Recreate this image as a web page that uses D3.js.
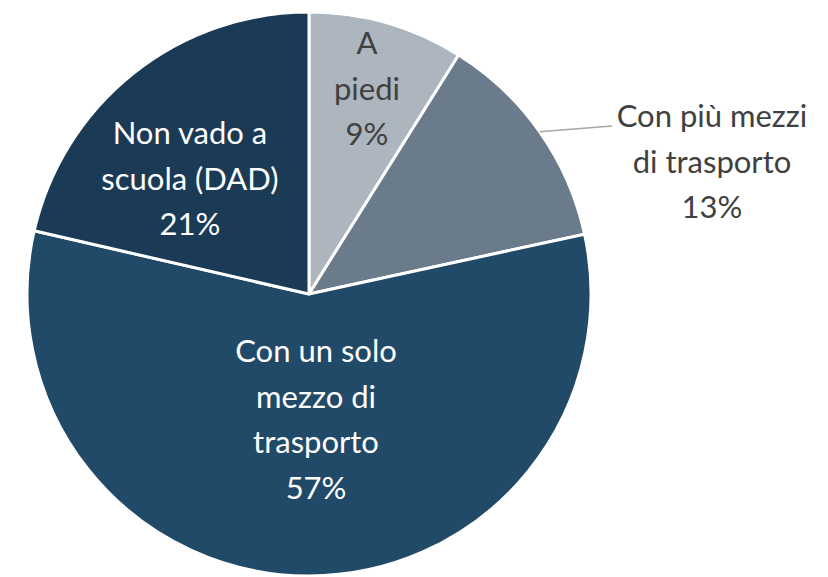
<!DOCTYPE html>
<html><head><meta charset="utf-8">
<script src="https://cdn.jsdelivr.net/npm/d3@7"></script>
<style>body{margin:0;background:#fff}svg{display:block}</style>
</head><body>
<script>
const categories = ["A piedi", "Con più mezzi di trasporto", "Con un solo mezzo di trasporto", "Non vado a scuola (DAD)"];
const values = [8.9, 12.7, 57.0, 21.4];
const labelLines = [["A", "piedi", "9%"], ["Con più mezzi", "di trasporto", "13%"], ["Con un solo", "mezzo di", "trasporto", "57%"], ["Non vado a", "scuola (DAD)", "21%"]];
const colors = ["#adb5bf", "#6a7b8c", "#214a68", "#1b3a56"];
const textColors = ["#404040", "#404040", "#ffffff", "#ffffff"];

const W = 828, H = 577, cx = 309, cy = 294, R = 282;
const svg = d3.select("body").append("svg").attr("width", W).attr("height", H);
const g = svg.append("g").attr("transform", `translate(${cx},${cy})`);
const data = categories.map((c, i) => ({c, v: values[i], i}));
const pie = d3.pie().value(d => d.v).sort(null);
const arc = d3.arc().innerRadius(0).outerRadius(R);
const arcs = pie(data);
g.selectAll("path").data(arcs).join("path").attr("d", arc)
  .attr("fill", d => colors[d.data.i]).attr("stroke", "#fff").attr("stroke-width", 3).attr("stroke-linejoin", "round");

// label placement: [angle (deg), radius fraction] inside; null -> outside
const labelPolar = [[15.8, 0.755], null, [176.8, 0.446], [-46, 0.587]];
const fs = 31, lh = 45.5;
arcs.forEach((a, k) => {
  const lines = labelLines[k];
  let x, y, fill = textColors[k];
  if (labelPolar[k]) {
    const ang = labelPolar[k][0] * Math.PI / 180, r = labelPolar[k][1] * R;
    x = Math.sin(ang) * r; y = -Math.cos(ang) * r;
  } else {
    const mid = (a.startAngle + a.endAngle) / 2;
    const p0 = [Math.sin(mid) * R, -Math.cos(mid) * R];
    const p1 = [303, -168];
    g.append("line").attr("x1", p0[0]).attr("y1", p0[1]).attr("x2", p1[0]).attr("y2", p1[1])
      .attr("stroke", "#a6a6a6").attr("stroke-width", 1.5);
    x = 403; y = -132;
  }
  const t = g.append("text").attr("x", x).attr("y", y).attr("text-anchor", "middle")
    .attr("fill", fill).style("font-family", "Lato, 'Open Sans', sans-serif").style("font-size", fs + "px");
  const y0 = -(lines.length - 1) * lh / 2;
  lines.forEach((l, j) => t.append("tspan").attr("x", x).attr("y", y + y0 + j * lh).attr("dy", "0.35em").text(l));
});
</script>
</body></html>
